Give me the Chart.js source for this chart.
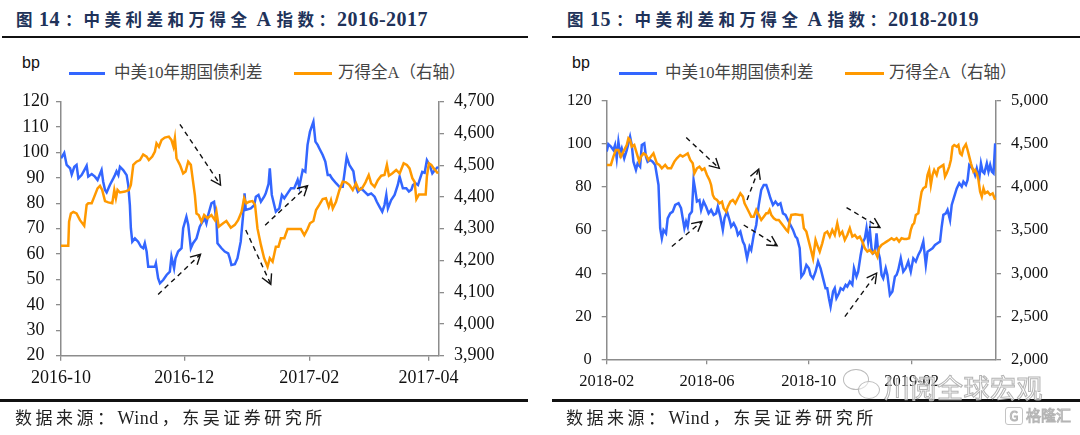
<!DOCTYPE html>
<html>
<head>
<meta charset="utf-8">
<script src="https://cdn.jsdelivr.net/npm/chart.js@4.4.1/dist/chart.umd.min.js"></script>
<style>
    body { margin: 0; width: 1080px; height: 435px; background: #fff; position: relative; overflow: hidden;
           font-family: "Liberation Serif", "Noto Sans CJK SC", serif; }
    .abs { position: absolute; white-space: nowrap; }
    .title { top: 8px; font-weight: bold; font-size: 16.5px; letter-spacing: 4.5px; color: #203259; line-height: 22px; }
    .title .n { font-size: 20px; letter-spacing: 0.5px; }
    .title .d { margin-left: 2px; margin-right: 5px; }
    .title .a { margin-left: 5px; margin-right: 5px; }
    .title .c { letter-spacing: 2px; }
    .rule { height: 2.5px; background: #111; }
    .src { top: 407px; font-size: 17px; letter-spacing: 3.5px; color: #222; line-height: 22px; }
    .src .w { font-size: 18px; letter-spacing: 0.5px; margin-right: 3px; }
    .bp { top: 53px; font-family: "Liberation Sans", sans-serif; font-size: 16px; color: #111; line-height: 20px; }
    .leg { top: 62px; font-size: 16.5px; color: #444; line-height: 22px; }
    .sw { top: 71.5px; height: 3px; }
    canvas { position: absolute; top: 0; }
    .wm { z-index: 5; color: rgba(255,255,255,0.5); -webkit-text-stroke: 1px #b4b4b4; font-family: "Noto Sans CJK SC", sans-serif; }
</style>
</head>
<body>

<div class="abs title" style="left:16px">图<span class="n d">14</span><span class="c">：</span>中美利差和万得全<span class="n a">A</span>指数<span class="c">：</span><span class="n">2016-2017</span></div>
<div class="abs rule" style="left:2px;width:526px;top:35.5px"></div>
<div class="abs bp" style="left:22px">bp</div>
<div class="abs sw" style="left:69px;width:36px;background:#3366ff"></div>
<div class="abs leg" style="left:114px">中美10年期国债利差</div>
<div class="abs sw" style="left:294px;width:38px;background:#ff9900"></div>
<div class="abs leg" style="left:338px">万得全A（右轴）</div>
<canvas id="chart1617" width="540" height="435" style="left:0"></canvas>
<div class="abs rule" style="left:0;width:528px;top:399px"></div>
<div class="abs src" style="left:15px">数据来源：<span class="w">Wind</span>，东吴证券研究所</div>

<div class="abs title" style="left:567px">图<span class="n d">15</span><span class="c">：</span>中美利差和万得全<span class="n a">A</span>指数<span class="c">：</span><span class="n">2018-2019</span></div>
<div class="abs rule" style="left:552px;width:528px;top:35.5px"></div>
<div class="abs bp" style="left:572px">bp</div>
<div class="abs sw" style="left:619px;width:38px;background:#3366ff"></div>
<div class="abs leg" style="left:665px">中美10年期国债利差</div>
<div class="abs sw" style="left:845px;width:39px;background:#ff9900"></div>
<div class="abs leg" style="left:889px">万得全A（右轴）</div>
<canvas id="chart1819" width="540" height="435" style="left:540px"></canvas>
<div class="abs rule" style="left:552px;width:528px;top:399px"></div>
<div class="abs src" style="left:566px">数据来源：<span class="w">Wind</span>，东吴证券研究所</div>

<!-- watermarks -->
<div class="abs wm" style="left:843px;top:369px;width:24px;height:19px;border:1.5px solid #bbb;border-radius:50%"></div>
<div class="abs wm" style="left:858px;top:381px;width:20px;height:16px;border:1.5px solid #bbb;border-radius:50%;background:rgba(255,255,255,0.5)"></div>
<div class="abs wm" style="left:884px;top:371px;font-size:26px;line-height:32px;letter-spacing:0.5px">川阅全球宏观</div>
<div class="abs wm" style="left:1005px;top:407px;width:16px;height:16px;border:1.5px solid #c4c4c4;border-radius:3px;font-size:13px;line-height:16px;text-align:center">G</div>
<div class="abs wm" style="left:1026px;top:404px;font-size:15px;line-height:22px">格隆汇</div>

<script type="text/javascript">
    // 2016-2017: x = days from 2016-10-01
    var spread1617 = [[0,97.7],[1.6,99.8],[2.8,95.1],[4.5,93.8],[5.3,91.4],[6.6,94.4],[7.7,95.1],[8.6,89.8],[10.2,91.1],[11.5,93],
        [12.7,94.8],[13.5,90.5],[15.2,91.5],[16.8,90.5],[18.1,89.2],[20.1,93.1],[20.9,88.5],[21.8,85.2],[22.6,84.3],[24.2,87.2],
        [25.9,89.8],[26.7,91.1],[27.5,92.6],[28.4,91.1],[29.2,94.4],[30.8,93.1],[32.5,91.1],[33.3,87.2],[34.1,79.3],[34.6,70.2],
        [35.3,64.9],[36.6,66.2],[38.2,64.9],[39.6,62.9],[40.7,62.3],[41.5,64.3],[42.4,61],[43.2,55],[44.8,55],[46.5,55],
        [47,56.3],[48.1,50.5],[49,48.5],[50.6,49.8],[52.3,51.8],[53.9,53.1],[54.7,59],[56,54.4],[56.7,58.3],[58,61],
        [59.7,62.3],[60.5,70.2],[62.1,74.7],[63,71.6],[64.3,62.3],[65.4,64.3],[67.1,66.2],[68.7,70.8],[69.6,72.1],[71.2,74.1],
        [72,72.1],[72.9,75.4],[74.5,80],[75.8,80.6],[77,72.8],[77.5,64.3],[79.5,62.3],[81.1,61],[82.8,60.3],[83.6,58.3],
        [84.4,55.7],[86.1,56],[87.4,58.4],[89,64.9],[90.2,75.4],[90.9,83.9],[91.5,77.4],[94,78],[95.7,79.3],[96.5,82.6],
        [97.8,83.3],[99,80.6],[100.6,82.6],[101.4,83.9],[102.8,87.7],[103.4,93.8],[104.4,83.3],[105.6,79.3],[106.4,76.7],[108.1,78],
        [109.4,83.3],[110.6,82],[112.2,83.9],[113.9,85.9],[115.5,85.9],[117.2,89.2],[118,86.5],[119.7,93.1],[121,92.4],[122.1,103],
        [123.3,108.2],[125,112.1],[126,104.3],[127.1,103],[127.9,101.7],[129.6,99],[130.9,96.4],[132.1,91.1],[133.2,91.1],[134.2,89.8],
        [136.2,87.9],[137.9,86.5],[139.5,86.5],[141.5,98.3],[142.8,95.1],[144.8,92.6],[145.8,87.2],[147,84.6],[148.6,85.9],[150.3,84.6],
        [152,83.3],[153.6,83.9],[155.3,82.6],[156.4,80.6],[157.7,78.7],[159.1,76.7],[160.2,79.3],[161.1,83.3],[161.9,78],[163.5,81.3],
        [165.2,83.3],[166.8,87.2],[167.7,90.5],[169.3,85.9],[171,85.9],[172.3,84.6],[173.5,85.3],[174.3,87.2],[175.6,87.9],[176.8,87.2],
        [177.6,89.2],[178.9,92.4],[180.1,92],[181.2,97],[182.6,95],[183.9,91.8],[185.1,93],[186.7,94.4]];
    var wind1617 = [[0,4246],[3.6,4246],[4,4322],[4.9,4348],[6.1,4353],[7.7,4348],[9.4,4327],[11.5,4309],[12.7,4375],[13.5,4380],
        [15.2,4380],[16.5,4401],[18.1,4427],[19.3,4435],[20.4,4422],[21.8,4387],[23.4,4383],[25.4,4380],[26.4,4422],[27.2,4396],
        [28,4422],[29.2,4414],[31.7,4417],[33.6,4422],[34.6,4438],[35.8,4501],[37.4,4511],[39.1,4516],[40.7,4534],[42.4,4527],
        [43.5,4516],[45.2,4527],[46.5,4543],[47.3,4569],[48.5,4558],[49.8,4579],[51.4,4587],[53.4,4590],[54.7,4579],[55.7,4558],
        [56.4,4585],[57.2,4522],[58.9,4501],[60.5,4474],[61.7,4480],[63,4511],[64.3,4501],[65.4,4448],[66.3,4406],[67.1,4348],
        [68.2,4343],[69.6,4322],[70.9,4343],[72.5,4333],[74.5,4343],[76.2,4327],[77,4353],[78.1,4306],[80.3,4317],[81.9,4324],
        [84.1,4303],[86.1,4312],[87.7,4327],[89.4,4353],[90.7,4396],[91.8,4380],[93.2,4385],[94.8,4387],[96.1,4375],[97.3,4301],
        [99,4249],[100.6,4207],[102.3,4180],[103.4,4207],[104.8,4196],[106.4,4243],[107.7,4243],[108.9,4270],[110.6,4270],[112.2,4299],
        [118.8,4299],[120.5,4280],[122.1,4299],[123.3,4317],[125,4324],[126.3,4359],[127.9,4375],[129.6,4393],[131.2,4396],[132.6,4369],
        [133.7,4390],[134.6,4364],[136.2,4385],[137.9,4422],[139.5,4448],[141.2,4446],[142.8,4438],[144.5,4422],[146.1,4443],[147.5,4422],
        [149.1,4427],[150.8,4446],[152.4,4469],[153.6,4443],[155.3,4432],[156.9,4453],[158.6,4467],[160.2,4469],[161.4,4501],[162.4,4467],
        [164,4474],[166,4485],[167.7,4474],[169.7,4506],[171.3,4501],[172.6,4490],[174,4459],[175.1,4448],[176,4393],[177.3,4408],
        [180.6,4408],[181.2,4464],[182.2,4506],[183.4,4501],[184.6,4490],[186.7,4474]];
    var xTicks1617 = [0, 61, 123, 182];
    var xLabels1617 = ['2016-10', '2016-12', '2017-02', '2017-04'];
    // dashed arrows: [fromDay, fromBp, toDay, toBp]
    var arrows1617 = [[58.9,111.1,79,87.2],[48.1,44.1,69.1,59.9],[91.5,69.5,103.9,48.1],[101.1,71.4,122.1,86.9]];

    // 2018-2019: x = days from 2018-02-01
    var spread1819 = [[0,96.5],[2,99.9],[5,98.8],[8,97.2],[10,99.6],[12,93.4],[14,101.1],[16,95.7],[18,98],[21,93.4],
        [24,97.2],[26,100.3],[28,103.4],[30,99.6],[32,91.8],[35,88],[37,91],[40,89.5],[42,99.6],[45,100.3],
        [47,94.1],[49,91.8],[52,92.6],[55,91.8],[58,90.3],[60,85.6],[62,81],[64,60.9],[66,56.2],[68,60.1],
        [71,58.5],[73,65.5],[76,67.8],[79,68.6],[82,71.7],[86,72.5],[89,70.2],[91,65.5],[93,60.9],[95,64],
        [97,61.6],[99,67.1],[102,68.6],[104,83.3],[106,78.7],[108,73.3],[111,74],[113,69.4],[116,73.3],[119,70.9],
        [122,67.8],[125,69.4],[128,67.1],[131,67.8],[133,70.9],[136,66.3],[139,60.1],[141,65.5],[144,68.6],[147,64.7],
        [149,61.6],[152,63.2],[155,60.9],[157,57.8],[160,59.3],[163,54.7],[165,53.1],[168,46.9],[171,52.4],[173,50.8],
        [176,57.8],[179,62.4],[182,71.7],[185,78.7],[188,81],[191,81],[193,78.7],[196,74.8],[199,71.7],[202,73.3],
        [205,71.7],[208,72.5],[211,67.8],[214,67.1],[217,64.7],[220,62.4],[223,60.1],[226,57],[228,56.2],[231,51.6],
        [233,38.4],[236,40],[239,43.8],[242,42.3],[244,39.2],[247,37.6],[250,40.7],[253,45.4],[256,42.3],[259,37.6],
        [262,33],[264,33],[266,28.4],[268,24.5],[271,31.5],[273,33],[275,28.4],[278,30.7],[280,33],[283,32.2],
        [286,34.6],[288,33.8],[291,36.1],[294,34.6],[296,42.3],[299,38.4],[301,40.7],[304,48.5],[307,54.7],[309,56.2],
        [311,60.9],[313,54.7],[315,60.1],[317,51.6],[319,49.3],[321,50],[323,58.5],[325,50],[327,46.9],[329,39.2],
        [331,37.6],[334,42.3],[336,39.2],[339,29.9],[342,31.5],[345,38.4],[347,39.2],[349,41.5],[352,46.9],[355,40.7],
        [358,42.3],[361,45.4],[364,40.7],[367,46.9],[370,45.4],[373,48.5],[376,50.8],[379,54.7],[382,43.8],[384,50],
        [387,50.8],[390,51.6],[393,53.1],[396,53.9],[399,54.7],[401,61.6],[403,67.1],[406,67.8],[408,69.4],[411,64.7],
        [413,71.7],[416,75.6],[419,79.4],[422,81.8],[425,80.2],[427,82.5],[430,81],[432,83.3],[434,90.3],[436,89.5],
        [439,88],[441,85.6],[443,88.7],[446,84.1],[448,91],[450,87.2],[452,86.4],[455,91],[457,87.2],[459,90.3],
        [461,87.2],[463,86.4],[465,100.3]];
    var wind1819 = [[0,4257],[5,4257],[8,4354],[11,4431],[14,4431],[17,4354],[20,4412],[24,4489],[26,4567],[28,4547],
        [30,4470],[33,4489],[36,4392],[39,4296],[41,4354],[44,4392],[47,4373],[50,4315],[53,4354],[56,4392],
        [58,4334],[60,4276],[63,4257],[66,4218],[70,4257],[73,4218],[77,4218],[81,4296],[84,4334],[88,4373],
        [91,4354],[94,4373],[97,4392],[100,4315],[103,4276],[105,4160],[108,4218],[111,4238],[114,4199],[117,4218],
        [120,4141],[123,4083],[125,4025],[127,3909],[129,3870],[132,3851],[135,3812],[138,3831],[140,3754],[143,3715],
        [145,3773],[148,3831],[151,3851],[154,3812],[157,3870],[160,3928],[163,3889],[165,3812],[168,3754],[171,3696],
        [173,3657],[176,3657],[179,3735],[182,3677],[185,3618],[188,3657],[191,3696],[193,3696],[195,3735],[197,3677],
        [200,3638],[203,3618],[206,3618],[209,3580],[212,3541],[215,3502],[217,3483],[219,3599],[221,3677],[226,3684],
        [231,3677],[234,3677],[236,3522],[239,3483],[242,3367],[244,3289],[247,3173],[250,3386],[252,3328],[255,3251],
        [258,3347],[261,3464],[264,3483],[267,3425],[270,3502],[273,3444],[276,3580],[279,3444],[282,3483],[285,3386],
        [288,3444],[291,3522],[294,3425],[297,3444],[300,3406],[303,3425],[306,3367],[309,3289],[312,3251],[315,3270],
        [318,3231],[321,3258],[324,3193],[326,3289],[329,3328],[332,3347],[335,3367],[338,3386],[341,3406],[344,3386],
        [347,3406],[350,3367],[353,3406],[356,3398],[359,3398],[362,3406],[364,3502],[366,3560],[368,3580],[370,3677],
        [373,3696],[375,3831],[377,3947],[379,3986],[382,4005],[384,4141],[386,4199],[388,4025],[390,4141],[392,4199],
        [395,4141],[397,4218],[400,4238],[403,4257],[405,4122],[407,4160],[410,4238],[412,4315],[414,4470],[416,4489],
        [419,4470],[421,4489],[423,4392],[425,4373],[427,4450],[430,4497],[432,4431],[434,4354],[436,4276],[439,4180],
        [441,4199],[443,4160],[445,4083],[447,3947],[449,3889],[451,3986],[453,3928],[456,3947],[459,3909],[462,3928],
        [465,3851]];
    var xTicks1819 = [0, 120, 242, 365];
    var xLabels1819 = ['2018-02', '2018-06', '2018-10', '2019-02'];
    var arrows1819 = [[95.2,103,134.8,88.7],[78,52.4,114,64],[168,74,182,88.4],[164,62.4,204,52.8],
        [287.1,70.5,327.1,61.2],[285.1,19.8,323.1,40]];

    var blue = '#3366ff';
    var orange = '#ff9900';
    var axisColour = '#8c8c8c';

    // dashed black arrows drawn in data units of the bp axis
    var arrowPlugin = {
        id: 'arrows',
        afterDatasetsDraw: function(chart, args, opts) {
            var ctx = chart.ctx, sx = chart.scales.x, sy = chart.scales.y;
            ctx.save();
            ctx.strokeStyle = '#111';
            ctx.lineWidth = 1.4;
            opts.list.forEach(function(a) {
                var x0 = sx.getPixelForValue(a[0]), y0 = sy.getPixelForValue(a[1]);
                var x1 = sx.getPixelForValue(a[2]), y1 = sy.getPixelForValue(a[3]);
                var ang = Math.atan2(y1 - y0, x1 - x0);
                ctx.setLineDash([5, 4]);
                ctx.beginPath();
                ctx.moveTo(x0, y0);
                ctx.lineTo(x1, y1);
                ctx.stroke();
                ctx.setLineDash([]);
                ctx.beginPath();
                ctx.moveTo(x1 - 11 * Math.cos(ang - 0.5), y1 - 11 * Math.sin(ang - 0.5));
                ctx.lineTo(x1, y1);
                ctx.lineTo(x1 - 11 * Math.cos(ang + 0.5), y1 - 11 * Math.sin(ang + 0.5));
                ctx.stroke();
            });
            ctx.restore();
        }
    };

    function axisGrid() {
        return { drawOnChartArea: false, drawTicks: true, tickLength: 5, color: axisColour, lineWidth: 1.3 };
    }

    function makeChart(id, c) {
        var font = { family: 'Liberation Serif', size: c.fontSize };
        return new Chart(document.getElementById(id), {
            type: 'line',
            data: {
                datasets: [
                    { data: c.wind.map(function(p) { return { x: p[0], y: p[1] }; }), yAxisID: 'y2',
                      borderColor: orange, borderWidth: 2.5, pointRadius: 0, tension: 0, order: 0 },
                    { data: c.spread.map(function(p) { return { x: p[0], y: p[1] }; }), yAxisID: 'y',
                      borderColor: blue, borderWidth: 2.5, pointRadius: 0, tension: 0, order: 1 }
                ]
            },
            options: {
                responsive: false,
                animation: false,
                devicePixelRatio: 1,
                layout: { padding: { top: c.top, left: 0, right: 0, bottom: 0 } },
                plugins: { legend: { display: false }, tooltip: { enabled: false }, arrows: { list: c.arrows } },
                scales: {
                    x: {
                        type: 'linear', min: 0, max: c.xMax,
                        afterBuildTicks: function(s) { s.ticks = c.xTicks.map(function(v) { return { value: v }; }); },
                        afterFit: function(s) { s.height = c.xHeight; },
                        ticks: { autoSkip: false, maxRotation: 0, padding: 7, color: '#111', font: font,
                                 callback: function(v) { return c.xLabels[c.xTicks.indexOf(v)]; } },
                        grid: axisGrid(),
                        border: { color: axisColour, width: 1.5 }
                    },
                    y: {
                        position: 'left', min: c.yMin, max: c.yMax,
                        afterFit: function(s) { s.width = c.leftWidth; },
                        ticks: { stepSize: c.yStep, padding: c.leftPad, crossAlign: c.leftAlign, color: '#111', font: font },
                        grid: axisGrid(),
                        border: { color: axisColour, width: 1.5 }
                    },
                    y2: {
                        position: 'right', min: c.y2Min, max: c.y2Max,
                        afterFit: function(s) { s.width = c.rightWidth; },
                        ticks: { stepSize: c.y2Step, padding: 10, color: '#111', font: font,
                                 callback: function(v) { return v.toLocaleString('en-US'); } },
                        grid: axisGrid(),
                        border: { color: axisColour, width: 1.5 }
                    }
                }
            },
            plugins: [arrowPlugin]
        });
    }

    makeChart('chart1617', {
        spread: spread1617, wind: wind1617, arrows: arrows1617,
        xMax: 187.2, xTicks: xTicks1617, xLabels: xLabels1617,
        yMin: 20, yMax: 120, yStep: 10, y2Min: 3900, y2Max: 4700, y2Step: 100,
        top: 101.7, xHeight: 79.3, leftWidth: 61, rightWidth: 101,
        leftPad: 7, leftAlign: 'center', fontSize: 18
    });

    makeChart('chart1819', {
        spread: spread1819, wind: wind1819, arrows: arrows1819,
        xMax: 466, xTicks: xTicks1819, xLabels: xLabels1819,
        yMin: 0, yMax: 120, yStep: 20, y2Min: 2000, y2Max: 5000, y2Step: 500,
        top: 101, xHeight: 75.7, leftWidth: 66.7, rightWidth: 84,
        leftPad: 10, leftAlign: 'near', fontSize: 16.5
    });
</script>
</body>
</html>
